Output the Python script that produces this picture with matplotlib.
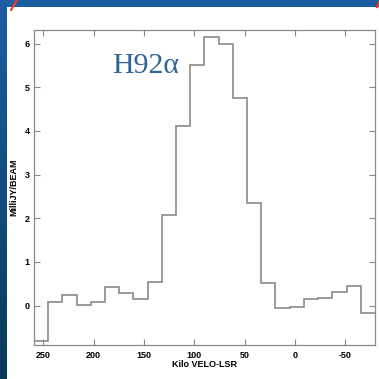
import numpy as np
import matplotlib
matplotlib.use("Agg")
import matplotlib.pyplot as plt
from matplotlib.patches import Rectangle

# channel centre velocities (km/s) and flux (mJy/beam)
velocity = [252.0, 238.0, 223.9, 209.8, 195.7, 181.6, 167.5, 153.4, 139.3, 125.2,
            111.1, 97.0, 82.9, 68.8, 54.7, 40.6, 26.5, 12.4, -1.7, -15.8,
            -29.9, -44.0, -58.1, -72.2]
flux = [-0.80, 0.08, 0.25, 0.02, 0.08, 0.43, 0.29, 0.15, 0.54, 2.08,
        4.12, 5.51, 6.16, 5.99, 4.75, 2.35, 0.52, -0.05, -0.04, 0.15,
        0.17, 0.31, 0.46, -0.17]
xticks = [250, 200, 150, 100, 50, 0, -50]
yticks = [0, 1, 2, 3, 4, 5, 6]

W = H = 379
fig = plt.figure(figsize=(W / 100, H / 100), dpi=100)

# slide background gradient
bg = fig.add_axes([0, 0, 1, 1])
grad = np.linspace(0, 1, 256).reshape(-1, 1)
top = np.array([0x1d, 0x5e, 0xa2]) / 255
bot = np.array([0x08, 0x3a, 0x58]) / 255
img = top[None, None, :] * (1 - grad[..., None]) + bot[None, None, :] * grad[..., None]
img = np.repeat(img, 2, axis=1)
bg.imshow(img, aspect='auto', extent=[0, W, H, 0])
bg.add_patch(Rectangle((7, 7), W - 7, H - 7, facecolor='white', edgecolor='none'))
bg.plot([11, 17], [10, 0], color='#e8401c', lw=1.6, solid_capstyle='round')
bg.plot([377, 379], [7, 2], color='#e8401c', lw=1.6)
bg.set_xlim(0, W)
bg.set_ylim(H, 0)
bg.axis('off')

ax = fig.add_axes([34 / W, 1 - 345 / H, (375 - 34) / W, (345 - 30) / H])
v = np.array(velocity)
mids = (v[:-1] + v[1:]) / 2
half = (v[0] - v[1]) / 2
edges = np.concatenate([[v[0] + half], mids, [v[-1] - half]])
ax.stairs(flux, edges, color='#8a8a8a', lw=1.2, baseline=None)

ax.set_xlim(259.1, -79.3)
ax.set_ylim(-0.90, 6.31)
ax.set_xticks(xticks)
ax.set_yticks(yticks)
ax.set_xticklabels([str(t) for t in xticks])
ax.set_yticklabels([str(t) for t in yticks])
ax.tick_params(direction='in', length=4.5, width=0.8, color='#8a8a8a',
               top=True, right=True, labelsize=6.5)
ax.tick_params(axis='x', pad=4)
ax.tick_params(axis='y', pad=3)
for lab in ax.get_xticklabels() + ax.get_yticklabels():
    lab.set_fontweight('bold')
    lab.set_family('Liberation Sans')
for s in ax.spines.values():
    s.set_color('#8a8a8a')
    s.set_linewidth(0.9)

ax.set_xlabel('Kilo VELO-LSR', fontsize=6.5, fontweight='bold', family='Liberation Sans', labelpad=0)
ax.set_ylabel('MilliJY/BEAM', fontsize=6.5, fontweight='bold', family='Liberation Sans', labelpad=4.5)

fig.text(112 / W, 1 - 73 / H, 'H92α', fontsize=21.5, family='Liberation Serif',
         color='#2f6496', ha='left', va='baseline')

fig.savefig('out.png', dpi=100)
